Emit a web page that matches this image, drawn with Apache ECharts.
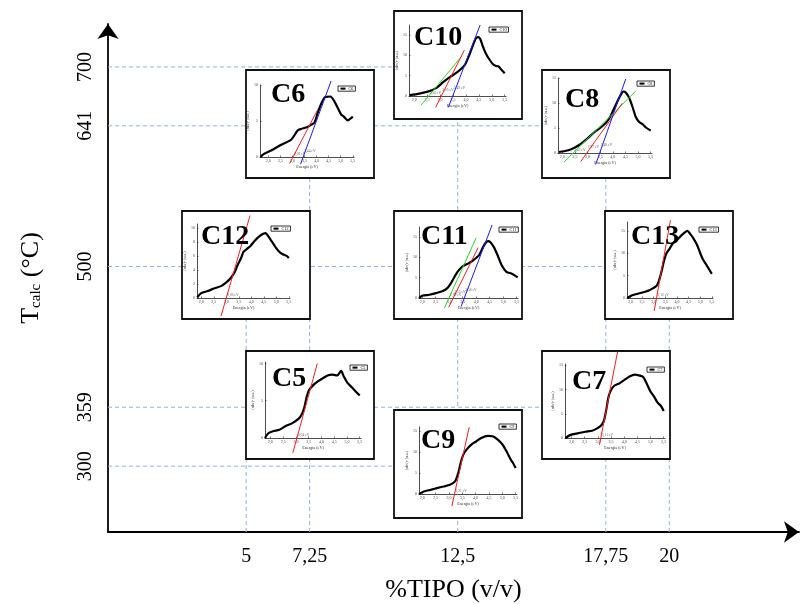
<!DOCTYPE html>
<html>
<head>
<meta charset="utf-8">
<script src="https://cdn.jsdelivr.net/npm/echarts@6/dist/echarts.min.js"></script>
<style>
  html, body { margin: 0; padding: 0; background: #fff; }
  #chart { width: 800px; height: 604px; }
</style>
</head>
<body>
<div id="chart"></div>
<script>
// ---- Experimental design: %TIPO vs calcination temperature ----
const tipoTicks = [5, 7.25, 12.5, 17.75, 20];
const tempTicks = [300, 359, 500, 641, 700];

const sampleNames = ['C5', 'C6', 'C7', 'C8', 'C9', 'C10', 'C11', 'C12', 'C13'];
const sampleTipo  = [7.25, 7.25, 17.75, 17.75, 12.5, 12.5, 12.5, 5, 20];
const sampleTemp  = [359, 641, 359, 641, 300, 700, 500, 500, 500];

// ---- Tauc plots: energy (eV) vs (alpha h nu)^2 (u.a.) ----
const energyTicks = [2.0, 2.5, 3.0, 3.5, 4.0, 4.5, 5.0, 5.5];

const curveC5 = [[1.79,0],[1.91,0.6],[2.1,0.9],[2.35,1.1],[2.6,1.6],[2.86,2.0],[3.11,2.6],[3.23,3.2],[3.33,4.1],[3.42,5.5],[3.51,6.4],[3.68,7.1],[3.86,7.6],[4.05,8.0],[4.24,8.4],[4.43,8.5],[4.62,8.4],[4.77,9.0],[4.87,8.3],[5.0,7.5],[5.19,6.8],[5.38,6.1],[5.5,5.7]];
const curveC6 = [[1.67,0],[1.8,0.4],[2.11,0.9],[2.53,1.7],[2.94,2.4],[3.22,3.7],[3.36,3.9],[3.56,4.1],[3.74,4.4],[3.91,4.8],[4.05,6.2],[4.19,7.4],[4.35,8.3],[4.57,8.4],[4.74,7.7],[4.88,6.8],[5.02,5.9],[5.13,5.6],[5.29,5.1],[5.43,5.4],[5.5,5.6]];
const curveC7 = [[1.77,0],[1.94,0.6],[2.26,1.0],[2.52,1.3],[2.78,1.5],[2.97,2.0],[3.14,2.7],[3.23,3.6],[3.32,5.9],[3.4,8.4],[3.49,9.8],[3.62,10.8],[3.82,11.3],[4.01,12.0],[4.2,12.7],[4.4,13.1],[4.59,12.9],[4.72,12.6],[4.85,11.3],[4.98,9.8],[5.14,8.5],[5.27,7.3],[5.4,6.6],[5.5,5.6]];
const curveC8 = [[1.87,0.2],[2.2,0.5],[2.46,1.0],[2.73,1.8],[2.99,2.9],[3.26,4.1],[3.52,5.1],[3.72,6.0],[3.89,7.2],[4.02,8.6],[4.18,10.3],[4.31,11.6],[4.42,12.3],[4.51,12.1],[4.65,11.0],[4.78,9.2],[4.91,7.2],[5.04,6.2],[5.17,5.8],[5.31,5.1],[5.5,4.5]];
const curveC9 = [[1.88,0],[2.06,0.6],[2.31,1.0],[2.55,1.4],[2.8,1.8],[3.04,2.2],[3.23,3.0],[3.35,5.0],[3.44,7.4],[3.54,9.4],[3.66,10.6],[3.84,11.8],[4.03,12.6],[4.21,13.4],[4.46,13.9],[4.64,13.8],[4.83,13.0],[5.01,11.8],[5.19,9.8],[5.32,8.2],[5.4,7.4],[5.5,6.2]];
const curveC10 = [[1.83,0.2],[2.2,0.6],[2.59,1.2],[2.86,2.0],[3.12,3.4],[3.39,4.7],[3.65,5.8],[3.85,6.9],[3.98,7.9],[4.11,9.8],[4.25,12.1],[4.38,14.1],[4.47,14.5],[4.55,14.1],[4.64,12.5],[4.77,10.5],[4.91,9.0],[5.04,7.9],[5.17,7.4],[5.26,7.3],[5.37,6.5],[5.5,5.6]];
const curveC11 = [[1.88,0],[2.02,0.6],[2.27,0.8],[2.51,1.2],[2.76,1.7],[2.94,2.5],[3.06,3.6],[3.18,5.0],[3.3,6.4],[3.43,7.4],[3.55,8.0],[3.73,8.6],[3.91,9.4],[4.1,10.5],[4.22,12.1],[4.34,13.5],[4.44,14.0],[4.52,13.8],[4.65,12.6],[4.77,10.9],[4.95,8.0],[5.13,6.4],[5.32,6.0],[5.54,5.1]];
const curveC12 = [[1.84,0.1],[2.0,0.7],[2.26,1.0],[2.53,1.4],[2.79,1.7],[2.99,2.2],[3.19,2.9],[3.35,3.8],[3.45,4.7],[3.59,5.7],[3.69,6.6],[3.85,7.1],[3.98,7.5],[4.14,8.2],[4.31,8.8],[4.48,9.2],[4.58,9.3],[4.67,8.9],[4.84,8.0],[4.97,7.3],[5.1,6.7],[5.24,6.3],[5.43,6.0],[5.5,5.7]];
const curveC13 = [[1.86,0],[2.07,0.6],[2.35,1.0],[2.63,1.4],[2.84,1.8],[2.98,2.2],[3.12,2.7],[3.22,3.8],[3.33,5.8],[3.44,8.3],[3.54,9.9],[3.68,11.0],[3.82,12.2],[4.0,13.0],[4.17,13.9],[4.34,14.7],[4.45,15.0],[4.56,14.4],[4.7,13.4],[4.87,11.8],[5.01,9.9],[5.12,8.6],[5.29,7.2],[5.5,5.4]];

// Linear fits to the absorption edge: each runs [lower end, band-gap intercept, upper end]
const fitsC5  = [[[2.88,-2.0],[3.04,0],[3.84,10.0]]];
const fitsC6  = [[[2.88,-0.9],[3.02,0],[4.05,6.62]], [[3.33,-1.0],[3.44,0],[4.6,10.55]]];
const fitsC7  = [[[3.06,-1.4],[3.11,0],[3.75,17.9]]];
const fitsC8  = [[[2.07,-1.8],[2.43,0],[4.91,12.4]], [[2.73,-1.7],[2.97,0],[4.38,9.98]], [[3.32,-2.3],[3.48,0],[4.51,14.8]]];
const fitsC9  = [[[3.11,-2.9],[3.21,0],[3.76,15.95]]];
const fitsC10 = [[[2.26,-2.3],[2.56,0],[3.85,9.89]], [[2.83,-2.8],[3.05,0],[3.94,11.3]], [[3.32,-2.8],[3.49,0],[4.55,17.5]]];
const fitsC11 = [[[2.82,-2.5],[2.99,0],[4.0,14.85]], [[2.98,-2.3],[3.15,0],[4.07,12.4]], [[3.44,-2.1],[3.56,0],[4.59,18.0]]];
const fitsC12 = [[[2.79,-2.6],[3.0,0],[3.95,11.8]]];
const fitsC13 = [[[3.02,-2.9],[3.12,0],[3.72,17.4]]];

// Axis extents of each small plot
const energyFrom = [1.79, 1.65, 1.75, 1.83, 1.88, 1.8, 1.88, 1.83, 1.85];
const absMax     = [10.2, 10, 15.3, 15, 16, 17.5, 17.5, 10.6, 17];
const absStep    = [5, 5, 5, 5, 5, 5, 5, 2, 5];

const curves = [curveC5, curveC6, curveC7, curveC8, curveC9, curveC10, curveC11, curveC12, curveC13];
const fits = [fitsC5, fitsC6, fitsC7, fitsC8, fitsC9, fitsC10, fitsC11, fitsC12, fitsC13];

// ---- Layout of the inset panels (pixels, relative to each panel frame) ----
const BOX_W = 128, BOX_H = 108;
const plotPad = [ // left, right, top, bottom
  [19,13,11,21], [14,20,15,21], [23,5,13,21], [16,18,8,25], [25,5,17,24],
  [15,16,14,23], [25,4,16,21], [15,20,13,21], [22,20,11,21]
];
const tagPos = [[26,28],[25,25],[30,31],[23,30],[27,31],[20,27],[27,26],[19,26],[26,26]];
const keyPos = [[104,14],[92,16],[105,16],[95,11],[105,14],[95,16],[105,16],[89,15],[94,16]];

const SERIF = '"Liberation Serif", "Times New Roman", Times, serif';
const GUIDE = '#8fb4df';
const fitPalette = { 1: ['#ff1a1a'], 2: ['#ff1a1a', '#1a1aff'], 3: ['#22e022', '#ff1a1a', '#1a1aff'] };

const chart = echarts.init(document.getElementById('chart'));

const xMin = 0.1, xMax = 24.6, yMin = 234, yMax = 743;
const fmt = (v, d) => v.toFixed(d).replace('.', ',');

// dashed guides from each axis tick to the farthest design point on that level
const guideSeries = [];
tempTicks.forEach(t => {
  const far = Math.max(...sampleTipo.filter((_, i) => sampleTemp[i] === t));
  guideSeries.push({ type: 'line', xAxisIndex: 0, yAxisIndex: 0, data: [[xMin, t], [far, t]],
    symbol: 'none', silent: true, z: 1, lineStyle: { color: GUIDE, width: 1, type: [4, 3] } });
});
tipoTicks.forEach(x => {
  const far = Math.max(...sampleTemp.filter((_, i) => sampleTipo[i] === x));
  guideSeries.push({ type: 'line', xAxisIndex: 0, yAxisIndex: 0, data: [[x, yMin], [x, far]],
    symbol: 'none', silent: true, z: 1, lineStyle: { color: GUIDE, width: 1, type: [4, 3] } });
});

const mainGrid = { left: 108, right: 1, top: 24, bottom: 72, containLabel: false, outerBoundsMode: 'none' };
const mainX = {
  gridIndex: 0, type: 'value', min: xMin, max: xMax,
  axisLine: { onZero: false, symbol: ['none', 'arrow'], symbolSize: [16, 15], lineStyle: { color: '#000', width: 1.8 } },
  axisTick: { show: false }, splitLine: { show: false },
  axisLabel: { customValues: tipoTicks, formatter: v => String(v).replace('.', ','), fontSize: 20, fontFamily: SERIF, color: '#000', margin: 15 },
  name: '%TIPO (v/v)', nameLocation: 'middle', nameGap: 45,
  nameTextStyle: { fontSize: 26, fontFamily: SERIF, color: '#000' }
};
const mainY = {
  gridIndex: 0, type: 'value', min: yMin, max: yMax,
  axisLine: { onZero: false, symbol: ['none', 'arrow'], symbolSize: [16, 15], lineStyle: { color: '#000', width: 1.8 } },
  axisTick: { show: false }, splitLine: { show: false },
  axisLabel: { customValues: tempTicks, rotate: 90, fontSize: 20, fontFamily: SERIF, color: '#000', margin: 12 },
  name: '{t|T}{s|calc}{t| (°C)}', nameLocation: 'middle', nameGap: 64, nameRotate: 90,
  nameTextStyle: { fontFamily: SERIF, color: '#000', rich: {
    t: { fontSize: 26, fontFamily: SERIF, color: '#000' },
    s: { fontSize: 15, fontFamily: SERIF, color: '#000', verticalAlign: 'bottom', padding: [10, 0, 0, 0] }
  } }
};

chart.setOption({ animation: false, backgroundColor: '#fff', grid: [mainGrid], xAxis: [mainX], yAxis: [mainY], series: guideSeries });

const grids = [mainGrid], xAxes = [mainX], yAxes = [mainY];
const series = guideSeries.slice(), legends = [], elements = [];

sampleNames.forEach((name, i) => {
  const [cx, cy] = chart.convertToPixel({ gridIndex: 0 }, [sampleTipo[i], sampleTemp[i]]);
  const bx = Math.round(cx - BOX_W / 2), by = Math.round(cy - BOX_H / 2 - 2);
  const [pl, pr, pt, pb] = plotPad[i];
  const g = i + 1;

  elements.push({ type: 'rect', z: 3, silent: true,
    shape: { x: bx, y: by, width: BOX_W, height: BOX_H },
    style: { fill: '#fff', stroke: '#111', lineWidth: 1.8 } });
  elements.push({ type: 'text', z: 9, silent: true, x: bx + tagPos[i][0], y: by + tagPos[i][1],
    style: { text: name, fontSize: 28, fontWeight: 'bold', fontFamily: SERIF, fill: '#000', align: 'left', verticalAlign: 'middle' } });

  grids.push({ left: bx + pl, top: by + pt, width: BOX_W - pl - pr, height: BOX_H - pt - pb,
    containLabel: false, outerBoundsMode: 'none' });

  const yTicks = [];
  for (let v = 0; v <= absMax[i] + 1e-9; v += absStep[i]) yTicks.push(v);

  xAxes.push({
    gridIndex: g, type: 'value', min: energyFrom[i], max: 5.55, z: 5,
    axisLine: { onZero: false, lineStyle: { color: '#222', width: 0.8 } },
    axisTick: { customValues: energyTicks, inside: true, length: 1.5, lineStyle: { color: '#222', width: 0.6 } },
    axisLabel: { customValues: energyTicks, formatter: v => fmt(v, 1), fontSize: 4, fontFamily: SERIF, color: '#444', margin: 2 },
    splitLine: { show: false },
    name: 'Energia (eV)', nameLocation: 'middle', nameGap: 8,
    nameTextStyle: { fontSize: 4.2, fontFamily: SERIF, color: '#333' }
  });
  yAxes.push({
    gridIndex: g, type: 'value', min: 0, max: absMax[i], z: 5,
    axisLine: { onZero: false, lineStyle: { color: '#222', width: 0.8 } },
    axisTick: { customValues: yTicks, inside: true, length: 1.5, lineStyle: { color: '#222', width: 0.6 } },
    axisLabel: { customValues: yTicks, fontSize: 4, fontFamily: SERIF, color: '#444', margin: 2 },
    splitLine: { show: false },
    name: '(αhν)² (u.a.)', nameLocation: 'middle', nameGap: 6,
    nameTextStyle: { fontSize: 4, fontFamily: SERIF, color: '#333' }
  });

  series.push({
    type: 'line', name: name, xAxisIndex: g, yAxisIndex: g, data: curves[i], z: 6,
    symbol: 'diamond', symbolSize: 2, showSymbol: false, smooth: 0.25,
    lineStyle: { color: '#000', width: 2.2 }, itemStyle: { color: '#000' }
  });

  const colors = fitPalette[fits[i].length];
  fits[i].forEach((pts, k) => {
    series.push({
      type: 'line', name: name + ' fit ' + (k + 1), xAxisIndex: g, yAxisIndex: g, data: pts, z: 7,
      symbol: 'none', clip: false, lineStyle: { color: colors[k], width: 1 }
    });
    series.push({
      type: 'scatter', name: name + ' Eg ' + (k + 1), xAxisIndex: g, yAxisIndex: g, z: 8,
      data: [pts[1]], symbolSize: 0, silent: true,
      label: { show: true, position: 'right', distance: 1, offset: [0, -3 - k * 2.5],
        formatter: p => fmt(p.value[0], 2) + ' eV', fontSize: 3.6, fontFamily: SERIF, color: '#333' }
    });
  });

  legends.push({
    data: [name], left: bx + keyPos[i][0], top: by + keyPos[i][1], z: 8,
    selectedMode: false, itemWidth: 5, itemHeight: 2, itemGap: 1, padding: [0.6, 2, 0.6, 1.5],
    borderColor: '#000', borderWidth: 0.8, backgroundColor: '#fff',
    textStyle: { fontSize: 4.2, fontFamily: SERIF, color: '#000', padding: [0, 0, 0, -2] }
  });
});

chart.setOption({ grid: grids, xAxis: xAxes, yAxis: yAxes, series: series, legend: legends, graphic: { elements: elements } });
</script>
</body>
</html>
